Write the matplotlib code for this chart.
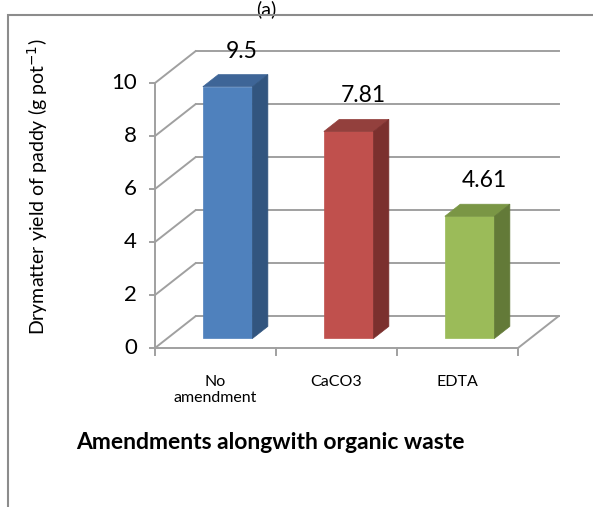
import matplotlib.pyplot as plt
from matplotlib.patches import Polygon, Rectangle

plt.rcParams['font.family'] = ['Lato', 'DejaVu Sans']

categories = ["No\namendment", "CaCO3", "EDTA"]
yields = [9.5, 7.81, 4.61]
yticks = [0, 2, 4, 6, 8, 10]

# front / top / side shades for each bar
front_colors = ["#4F81BD", "#C0504D", "#9BBB59"]
top_colors = ["#3E6597", "#93403D", "#7A9645"]
side_colors = ["#32557F", "#7B302E", "#637A38"]

GRID = "#A0A0A0"
DX, DY = 0.335, 1.2          # depth of the 3d box in data units
F1, F2 = 0.30, 0.68          # bar front/back as fraction of depth
HALF = 0.205                 # half width of a bar


def box(ax, x0, x1, v, front, top, side):
    a, b = F1, F2
    p = lambda x, y, f: (x + DX * f, y + DY * f)
    faces = [
        ([p(x0, 0, a), p(x1, 0, a), p(x1, v, a), p(x0, v, a)], front),
        ([p(x0, v, a), p(x1, v, a), p(x1, v, b), p(x0, v, b)], top),
        ([p(x1, 0, a), p(x1, 0, b), p(x1, v, b), p(x1, v, a)], side),
    ]
    for pts, c in faces:
        ax.add_patch(Polygon(pts, closed=True, facecolor=c, edgecolor=c,
                             lw=0.5, zorder=5))


fig = plt.figure(figsize=(5.93, 5.07), dpi=100)
ax = fig.add_axes([0, 0, 1, 1])
ax.set_xlim(-155 / 121, (593 - 155) / 121)
ax.set_ylim((348 - 507) / 26.5, 348 / 26.5)
ax.axis("off")

fig.patches.append(Rectangle((8 / 593, -0.1), 1.2, 1 - 15 / 507 + 0.1,
                             transform=fig.transFigure, fill=False,
                             edgecolor="#8C8C8C", lw=1.5))

n = len(categories)
# back wall grid and side wall diagonals
for t in yticks:
    ax.plot([DX, n + DX], [t + DY, t + DY], color=GRID, lw=1.4, zorder=1)
    ax.plot([0, DX], [t, t + DY], color=GRID, lw=1.4, zorder=1)
    ax.plot([-0.04, 0], [t, t], color=GRID, lw=1.4, zorder=2)
    ax.text(-0.15, t, str(t), ha="right", va="center", fontsize=16)

# floor and axes lines
ax.plot([0, 0], [0, max(yticks)], color=GRID, lw=1.4, zorder=2)
ax.plot([0, n], [0, 0], color=GRID, lw=1.4, zorder=2)
ax.plot([n, n + DX], [0, DY], color=GRID, lw=1.4, zorder=1)
for i in range(n + 1):
    ax.plot([i, i], [0, -0.25], color=GRID, lw=1.4, zorder=2)

for i, (v, lab) in enumerate(zip(yields, categories)):
    c = i + 0.5
    box(ax, c - HALF, c + HALF, v, front_colors[i], top_colors[i], side_colors[i])
    ax.text(c + 0.22, v + DY + 0.5, f"{v:g}", ha="center", va="center",
            fontsize=16.5, zorder=6)
    ax.text(c, -1.0, lab, ha="center", va="top", fontsize=11.5,
            linespacing=1.2)

ax.text(-0.97, 6.1, "Drymatter yield of paddy (g pot$^{-1}$)", rotation=90,
        ha="center", va="center", fontsize=14)
ax.text(0.95, -3.55, "Amendments alongwith organic waste", ha="center",
        va="center", fontsize=16.5, fontweight="bold")
ax.text(0.92, 12.8, "(a)", ha="center", va="center", fontsize=14)

fig.savefig("out.png", dpi=100)
